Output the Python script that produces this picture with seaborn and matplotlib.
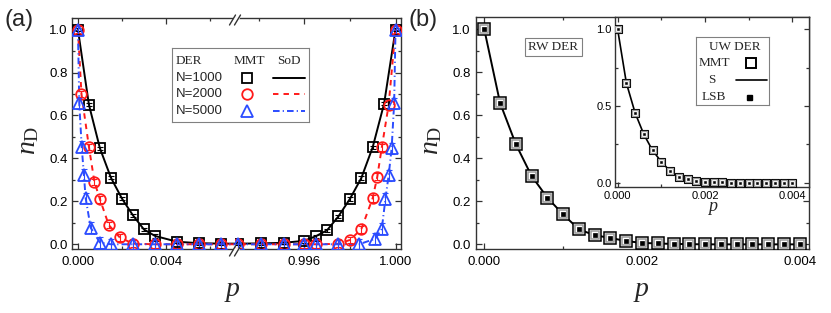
import matplotlib
matplotlib.use("Agg")
import matplotlib.pyplot as plt
import seaborn as sns
import numpy as np
import pandas as pd
from matplotlib.lines import Line2D
from matplotlib.ticker import FixedLocator, MultipleLocator, FormatStrFormatter

# ---------------- data: panel (a) DER ----------------
p_n1000 = [0.0, 0.0005, 0.001, 0.0015, 0.002, 0.0025, 0.003, 0.0035, 0.0045, 0.0055, 0.0065,
           0.9931, 0.9941, 0.9951, 0.996, 0.9965, 0.997, 0.9975, 0.998, 0.9985, 0.999, 0.9995, 1.0]
nD_n1000 = [1.0, 0.65, 0.447, 0.31, 0.213, 0.135, 0.069, 0.039, 0.012, 0.005, 0.003,
            0.003, 0.004, 0.007, 0.016, 0.037, 0.065, 0.13, 0.211, 0.308, 0.452, 0.655, 1.0]

p_n2000 = [0.0, 0.00016, 0.0005, 0.00075, 0.001, 0.0014, 0.0019, 0.0025, 0.0035, 0.0045, 0.0055, 0.0065,
           0.9931, 0.9941, 0.9951, 0.996, 0.9965, 0.9975, 0.998, 0.9985, 0.999, 0.9992, 0.9994, 0.9997, 1.0]
nD_n2000 = [1.0, 0.70, 0.453, 0.29, 0.21, 0.09, 0.032, 0.003, 0.0, 0.0, 0.0, 0.0,
            0.0, 0.0, 0.0, 0.0, 0.0, 0.002, 0.02, 0.07, 0.215, 0.314, 0.452, 0.65, 1.0]

p_n5000 = [0.0, 0.00006, 0.00017, 0.00027, 0.00035, 0.00058, 0.001, 0.0015, 0.0025, 0.0035, 0.0045, 0.0055, 0.0065,
           0.9931, 0.9941, 0.9951, 0.996, 0.9965, 0.9975, 0.9984, 0.99912, 0.9994, 0.99956, 0.9997, 0.99983, 0.99994, 1.0]
nD_n5000 = [1.0, 0.657, 0.455, 0.325, 0.215, 0.077, 0.008, 0.0, 0.0, 0.0, 0.0, 0.0, 0.0,
            0.0, 0.0, 0.0, 0.0, 0.0, 0.0, 0.0, 0.026, 0.073, 0.213, 0.322, 0.447, 0.657, 1.0]

a_labels = ["N=1000", "N=2000", "N=5000"]
a_xticks_left = [0.000, 0.004]
a_xticks_right = [0.996, 1.000]

# ---------------- data: panel (b) RW DER and inset UW DER ----------------
p_b = [0.0, 0.0002, 0.0004, 0.0006, 0.0008, 0.0010, 0.0012, 0.0014, 0.0016, 0.0018, 0.0020,
       0.0022, 0.0024, 0.0026, 0.0028, 0.0030, 0.0032, 0.0034, 0.0036, 0.0038, 0.0040]
nD_rw = [1.0, 0.658, 0.466, 0.318, 0.217, 0.139, 0.07, 0.042, 0.03, 0.015, 0.007,
         0.004, 0.002, 0.001, 0.0, 0.0, 0.0, 0.0, 0.0, 0.0, 0.0]
nD_uw = [1.0, 0.65, 0.455, 0.315, 0.21, 0.137, 0.076, 0.039, 0.022, 0.012, 0.006,
         0.003, 0.002, 0.001, 0.0, 0.0, 0.0, 0.0, 0.0, 0.0, 0.0]

# ---------------- style ----------------
sns.set_theme(style="ticks")
plt.rcParams["font.family"] = ["Liberation Sans", "DejaVu Sans"]
plt.rcParams["mathtext.fontset"] = "custom"
plt.rcParams["mathtext.it"] = "Liberation Serif:italic"
plt.rcParams["mathtext.rm"] = "Liberation Serif"
SERIF = ["Liberation Serif", "DejaVu Serif"]

W, H = 831, 313
fig = plt.figure(figsize=(W / 100, H / 100), dpi=100)
fig.patch.set_facecolor("white")


def box(x0, y0, x1, y1):
    return [x0 / W, 1 - y1 / H, (x1 - x0) / W, (y1 - y0) / H]


SPINE = "#333333"
RED = "#ff1a1a"
BLUE = "#2b4cff"


def style_ax(ax, labelsize=9.5, pad=3):
    for s in ax.spines.values():
        s.set_color(SPINE)
        s.set_linewidth(1.0)
    ax.tick_params(which="both", direction="in", colors=SPINE, labelcolor="black",
                   labelsize=labelsize, width=0.9, pad=pad)
    ax.tick_params(which="major", length=4.5)
    ax.tick_params(which="minor", length=2.5)
    ax.set_xlabel("")
    ax.set_ylabel("")
    ax.set_facecolor("white")


# ---------------- panel (a): broken x axis ----------------
axL = fig.add_axes(box(72, 18, 235, 249))
axR = fig.add_axes(box(235, 18, 401, 249))

series = [
    (p_n1000, nD_n1000, "black", "-", "s", 7.0, 0.008),
    (p_n2000, nD_n2000, RED, (0, (2.8, 2.6)), "o", 7.6, 0.016),
    (p_n5000, nD_n5000, BLUE, (0, (3.4, 1.6, 0.6, 1.6)), "^", 8.2, 0.025),
]

for ax in (axL, axR):
    for p, n, c, ls, m, ms, err in series:
        sns.lineplot(x=p, y=n, ax=ax, color=c, lw=1.4, linestyle=ls,
                     sort=False, estimator=None, zorder=2)
        ax.errorbar(p, n, yerr=err, fmt="none", ecolor=c, elinewidth=0.8,
                    capsize=2.0, capthick=0.8, zorder=3)
        sns.lineplot(x=p, y=n, ax=ax, color=c, linestyle="none", marker=m,
                     markersize=ms, markerfacecolor="none", markeredgecolor=c,
                     markeredgewidth=1.3, sort=False, estimator=None, zorder=4)
    style_ax(ax)
    ax.set_ylim(-0.022, 1.054)
    ax.yaxis.set_major_locator(MultipleLocator(0.2))
    ax.yaxis.set_minor_locator(MultipleLocator(0.1))
    ax.xaxis.set_major_formatter(FormatStrFormatter("%.3f"))
    ax.yaxis.set_major_formatter(FormatStrFormatter("%.1f"))
    ax.tick_params(axis="x", pad=5)

axL.set_xlim(-0.00027, 0.00714)
axL.xaxis.set_major_locator(FixedLocator(a_xticks_left))
axL.xaxis.set_minor_locator(FixedLocator([0.002, 0.006]))
axL.spines["right"].set_visible(False)
axL.tick_params(which="both", top=True, right=False, left=True)

axR.set_xlim(0.99297, 1.00024)
axR.xaxis.set_major_locator(FixedLocator(a_xticks_right))
axR.xaxis.set_minor_locator(FixedLocator([0.994, 0.998]))
axR.spines["left"].set_visible(False)
axR.tick_params(which="both", top=True, right=True, left=False, labelleft=False)

# break marks
for yc, ys in ((18, 20), (249, 251)):
    fig.add_artist(Line2D([233.5 / W, 237.5 / W], [1 - yc / H, 1 - yc / H],
                          color="white", lw=2.0, transform=fig.transFigure, zorder=10))
    for xc in (232.5, 237.5):
        fig.add_artist(Line2D([(xc - 3) / W, (xc + 3) / W], [1 - (ys + 5) / H, 1 - (ys - 5) / H],
                              color=SPINE, lw=1.0, transform=fig.transFigure, zorder=11))

# legend panel (a)
legA = fig.add_axes(box(171.7, 48.3, 309.3, 121.7))
legA.set_xlim(0, 137.6)
legA.set_ylim(73.4, 0)
legA.set_xticks([])
legA.set_yticks([])
for s in legA.spines.values():
    s.set_color("#808080")
    s.set_linewidth(0.8)
legA.text(4.3, 12.4, "DER", family=SERIF, fontsize=9.5, va="center", ha="left")
legA.text(77.6, 12.4, "MMT", family=SERIF, fontsize=9.5, va="center", ha="center")
legA.text(117.6, 12.4, "SoD", family=SERIF, fontsize=9.5, va="center", ha="center")
for (p, n, c, ls, m, ms, err), lab, yy in zip(series, a_labels, (29.4, 46.0, 62.7)):
    legA.text(4.3, yy, lab, fontsize=9.5, va="center", ha="left")
    legA.plot([75.6], [yy], marker=m, markersize=ms, markerfacecolor="none",
              markeredgecolor=c, markeredgewidth=1.3, linestyle="none")
    legA.plot([101, 133.3], [yy, yy], color=c, lw=1.4, linestyle=ls)

# ---------------- panel (b) ----------------
axB = fig.add_axes(box(476, 17.3, 809, 249.3))
sns.lineplot(x=p_b, y=nD_rw, ax=axB, color="black", lw=1.4, sort=False, estimator=None, zorder=2)
sns.lineplot(x=p_b, y=nD_rw, ax=axB, color="black", linestyle="none", marker="s", markersize=8.6,
             markerfacecolor="white", markeredgecolor="black", markeredgewidth=1.1,
             sort=False, estimator=None, zorder=3)
sns.lineplot(x=p_b, y=nD_rw, ax=axB, color="gray", linestyle="none", marker="s", markersize=6.4,
             markerfacecolor="none", markeredgecolor="#9a9a9a", markeredgewidth=1.1,
             sort=False, estimator=None, zorder=4)
sns.lineplot(x=p_b, y=nD_rw, ax=axB, color="black", linestyle="none", marker="s", markersize=2.6,
             markerfacecolor="black", markeredgecolor="black", markeredgewidth=0.5,
             sort=False, estimator=None, zorder=5)
style_ax(axB, pad=4)
axB.set_xlim(-0.000105, 0.004118)
axB.set_ylim(-0.023, 1.056)
axB.xaxis.set_major_locator(MultipleLocator(0.002))
axB.xaxis.set_minor_locator(MultipleLocator(0.001))
axB.yaxis.set_major_locator(MultipleLocator(0.2))
axB.yaxis.set_minor_locator(MultipleLocator(0.1))
axB.xaxis.set_major_formatter(FormatStrFormatter("%.3f"))
axB.yaxis.set_major_formatter(FormatStrFormatter("%.1f"))
axB.tick_params(which="both", top=True, right=True)
axB.tick_params(axis="x", pad=5)
axB.text(0.232, 0.872, "RW DER", transform=axB.transAxes, ha="center", va="center",
         family=SERIF, fontsize=9.5,
         bbox=dict(boxstyle="square,pad=0.25", fc="white", ec="#808080", lw=0.8))

# inset
axI = fig.add_axes(box(615, 17.3, 809, 187.3))
sns.lineplot(x=p_b, y=nD_uw, ax=axI, color="black", lw=1.2, sort=False, estimator=None, zorder=2)
sns.lineplot(x=p_b, y=nD_uw, ax=axI, color="black", linestyle="none", marker="s", markersize=6.0,
             markerfacecolor="white", markeredgecolor="black", markeredgewidth=0.8,
             sort=False, estimator=None, zorder=3)
sns.lineplot(x=p_b, y=nD_uw, ax=axI, color="gray", linestyle="none", marker="s", markersize=4.3,
             markerfacecolor="none", markeredgecolor="#9a9a9a", markeredgewidth=0.9,
             sort=False, estimator=None, zorder=4)
sns.lineplot(x=p_b, y=nD_uw, ax=axI, color="black", linestyle="none", marker="s", markersize=1.8,
             markerfacecolor="black", markeredgecolor="black", markeredgewidth=0.4,
             sort=False, estimator=None, zorder=5)
style_ax(axI, labelsize=8, pad=2.5)
axI.set_xlim(-0.00006, 0.00438)
axI.set_ylim(-0.03, 1.078)
axI.xaxis.set_major_locator(MultipleLocator(0.002))
axI.xaxis.set_minor_locator(MultipleLocator(0.001))
axI.yaxis.set_major_locator(MultipleLocator(0.5))
axI.yaxis.set_minor_locator(MultipleLocator(0.25))
axI.xaxis.set_major_formatter(FormatStrFormatter("%.3f"))
axI.yaxis.set_major_formatter(FormatStrFormatter("%.1f"))
axI.tick_params(which="both", top=True, right=True)
axI.tick_params(which="major", length=3.5)
axI.tick_params(which="minor", length=2)

# inset legend
legB = fig.add_axes(box(695.7, 37.3, 769.3, 104.5))
legB.set_xlim(0, 73.6)
legB.set_ylim(67.2, 0)
legB.set_xticks([])
legB.set_yticks([])
for s in legB.spines.values():
    s.set_color("#808080")
    s.set_linewidth(0.8)
legB.text(38.6, 9.4, "UW DER", family=SERIF, fontsize=9.5, ha="center", va="center")
legB.text(3.3, 26.0, "MMT", family=SERIF, fontsize=9.5, ha="left", va="center")
legB.plot([55], [26.0], marker="s", markersize=6.5, markerfacecolor="white",
          markeredgecolor="black", markeredgewidth=1.4, linestyle="none")
legB.text(16, 42.7, "S", family=SERIF, fontsize=9.5, ha="center", va="center")
legB.plot([40, 71.6], [42.7, 42.7], color="black", lw=1.2)
legB.text(6, 59.4, "LSB", family=SERIF, fontsize=9.5, ha="left", va="center")
legB.plot([53.6], [59.4], marker="s", markersize=3.6, markerfacecolor="black",
          markeredgecolor="black", linestyle="none")

# ---------------- labels ----------------
fig.text(28 / W, 1 - 140 / H, r"$n_{\mathrm{D}}$", rotation=90, ha="center", va="center", fontsize=20)
fig.text(431 / W, 1 - 140 / H, r"$n_{\mathrm{D}}$", rotation=90, ha="center", va="center", fontsize=20)
fig.text(232 / W, 1 - 296 / H, r"$p$", ha="center", va="baseline", fontsize=20)
fig.text(641.7 / W, 1 - 296 / H, r"$p$", ha="center", va="baseline", fontsize=20)
fig.text(713 / W, 1 - 211 / H, r"$p$", ha="center", va="baseline", fontsize=13)
fig.text(5 / W, 1 - 9 / H, "(a)", ha="left", va="top", fontsize=17)
fig.text(409 / W, 1 - 9 / H, "(b)", ha="left", va="top", fontsize=17)

fig.savefig("out.png", dpi=100, facecolor="white")
